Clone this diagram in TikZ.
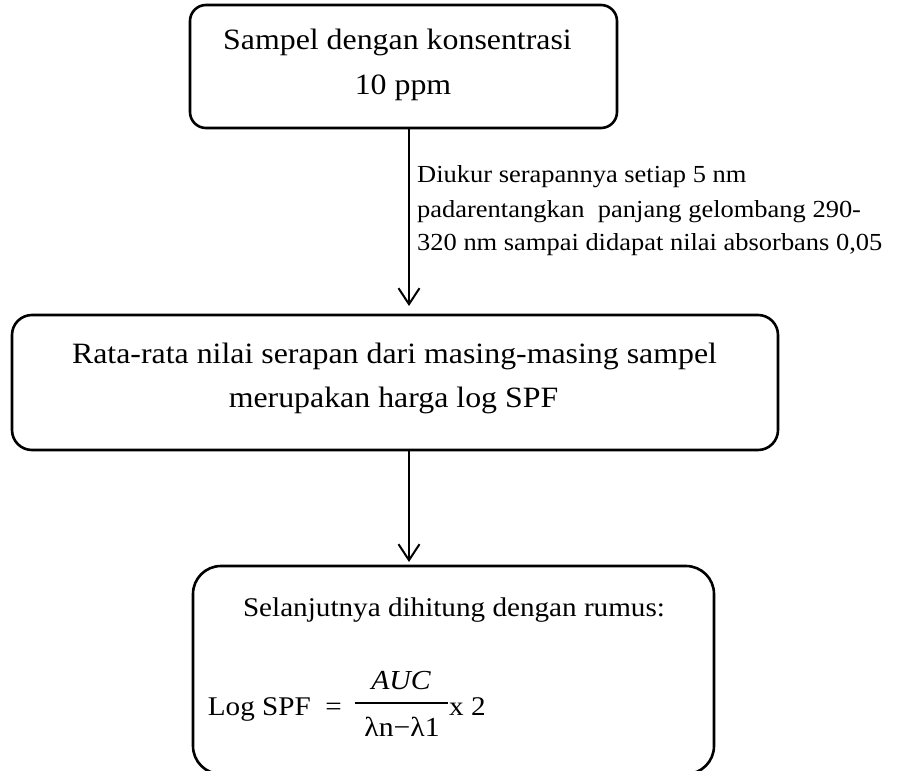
\documentclass[tikz,border=0pt]{standalone}
\usepackage{fontspec}
\setmainfont{Liberation Serif}
\usetikzlibrary{arrows.meta}
\newcommand{\hs}[1]{\scalebox{1.08}[1]{#1}}
\begin{document}
\begin{tikzpicture}[x=1pt,y=-1pt,
  box/.style={draw, line width=2.6pt, inner sep=0pt, outer sep=0pt},
  txt/.style={anchor=base, inner sep=0pt, font=\fontsize{29.5}{34}\selectfont},
  txts/.style={anchor=base, inner sep=0pt, font=\fontsize{27}{32}\selectfont},
  lab/.style={anchor=base west, inner sep=0pt, font=\fontsize{24.5}{28}\selectfont},
  arr/.style={line width=2pt, -{Straight Barb[length=16pt,width=21pt]}}]
\useasboundingbox (0,0) rectangle (900,771);
\clip (0,0) rectangle (900,771);
% boxes
\node[box, rounded corners=16pt, minimum width=427pt, minimum height=123pt] (b1) at (403.5,66.5) {};
\node[box, rounded corners=20pt, minimum width=766pt, minimum height=135pt] (b2) at (395,382.5) {};
\node[box, rounded corners=28pt, minimum width=521pt, minimum height=208pt] (b3) at (453.5,670) {};
% box texts
\node[txt] (t11) at (397.5,49) {\hs{Sampel dengan konsentrasi}};
\node[txt] (t12) at (403,94) {\hs{10 ppm}};
\node[txt] (t21) at (394.5,363) {\hs{Rata-rata nilai serapan dari masing-masing sampel}};
\node[txt] (t22) at (393.5,407) {\hs{merupakan harga log SPF}};
\node[txts] (t31) at (454,616) {\hs{Selanjutnya dihitung dengan rumus:}};
% formula
\node[txts, anchor=base east] (f1) at (342,715) {\hs{Log SPF\ \ =}};
\node[txt, font=\fontsize{27.5}{32}\selectfont\itshape] (fnum) at (401,689) {\hs{AUC}};
\node[txt, font=\fontsize{27.5}{32}\selectfont] (fden) at (402,736) {\hs{λn−λ1}};
\coordinate (fb1) at (355,703);
\coordinate (fb2) at (448,703);
\draw[line width=1.4pt] (fb1) -- (fb2);
\node[txts, anchor=base west] (f2) at (449,715) {\hs{x 2}};
% arrow label
\node[lab] (l1) at (417,182) {\hs{Diukur serapannya setiap 5 nm}};
\node[lab] (l2) at (417,217) {\hs{padarentangkan\ \ panjang gelombang 290-}};
\node[lab] (l3) at (417,250) {\hs{320 nm sampai didapat nilai absorbans 0,05}};
% arrows
\coordinate (ax) at (409,0);
\draw[arr, shorten >=9pt] (ax |- b1.south) -- (ax |- b2.north);
\draw[arr, shorten >=4pt] (ax |- b2.south) -- (ax |- b3.north);
\end{tikzpicture}
\end{document}
